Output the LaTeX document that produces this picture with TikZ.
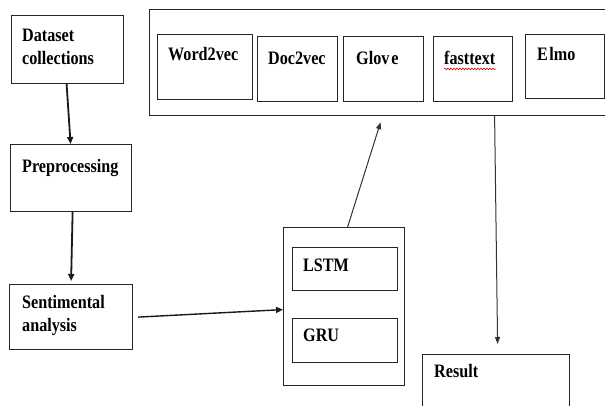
\documentclass[tikz,border=0pt]{standalone}
\usepackage{fontspec}
\newfontfamily\tnr{Liberation Serif}[FakeStretch=0.85, UprightFont={* Bold}]
\usetikzlibrary{arrows.meta,decorations.pathmorphing}
\tikzset{
  box/.style={draw=black!85, line width=1.2pt, rectangle, inner sep=0pt, anchor=north west},
  lbl/.style={font=\tnr\fontsize{19}{23}\selectfont, inner sep=0pt, anchor=west, align=left, text=black},
  thickarr/.style={line width=1.8pt, draw=black!90, -{Triangle[length=7pt,width=6pt]}},
  thinarr/.style={line width=1pt, draw=black!80, -{Triangle[length=7pt,width=5pt]}}
}
\begin{document}
\begin{tikzpicture}[x=1pt,y=-1pt]
\useasboundingbox (0,0) rectangle (605,406);
\clip (0,0) rectangle (605,406);
% left column
\node[box, minimum width=112pt, minimum height=68pt] (data) at (11,15) {};
\node[box, minimum width=121pt, minimum height=67pt] (prep) at (10,144) {};
\node[box, minimum width=123pt, minimum height=65pt] (sent) at (9,284) {};
\node[lbl] (datat) at (22,46.5) {Dataset\\collections};
\node[lbl] (prept) at (22,168) {Preprocessing};
\node[lbl] (sentt) at (22,315) {Sentimental\\analysis};
% embeddings
\node[box, minimum width=471pt, minimum height=106pt] (embed) at (149,9) {};
\node[box, minimum width=95pt, minimum height=65pt] (w2v) at (157,34) {};
\node[box, minimum width=80pt, minimum height=65pt] (d2v) at (257,36) {};
\node[box, minimum width=80pt, minimum height=65pt] (glove) at (343,36) {};
\node[box, minimum width=79pt, minimum height=65pt] (fast) at (433,36) {};
\node[box, minimum width=79pt, minimum height=64pt] (elmo) at (525,34) {};
\node[lbl] (w2vt) at (168,54) {Word2vec};
\node[lbl] (d2vt) at (268,58) {Doc2vec};
\node[lbl] (glovet) at (356,58) {Glov\kern2pt e};
\node[lbl] (fastt) at (444,58) {fasttext};
\node[lbl] (elmot) at (537,54) {E\kern1.5pt lmo};
\draw[red!80!black, line width=0.6pt, decorate, decoration={snake, amplitude=0.8pt, segment length=3pt}]
  ([yshift=-4pt]fastt.south west) -- ([yshift=-4pt]fastt.south east);
% RNN models
\node[box, minimum width=121pt, minimum height=158pt] (rnn) at (283,227) {};
\node[box, minimum width=105pt, minimum height=43pt] (lstm) at (292,247) {};
\node[box, minimum width=105pt, minimum height=44pt] (gru) at (292,318) {};
\node[lbl] (lstmt) at (303,265) {LSTM};
\node[lbl] (grut) at (303,335) {GRU};
% result
\node[box, minimum width=147pt, minimum height=60pt] (result) at (422,354) {};
\node[lbl] (resultt) at (434,371) {Result};
% connectors
\draw[thickarr] ([xshift=-1pt]data.south) -- ([xshift=-0.5pt]prep.north);
\draw[thickarr] ([xshift=1.5pt]prep.south) -- ([yshift=3pt]sent.north);
\draw[thickarr, line width=1.4pt] ([xshift=5pt]sent.east) -- ([yshift=-3pt]rnn.west);
\draw[thinarr] ([xshift=3.5pt]rnn.north) -- ([xshift=-4.5pt,yshift=-6pt]embed.south);
\draw[thinarr] ([xshift=109.5pt]embed.south) -- ([xshift=1.5pt,yshift=10pt]result.north);
\end{tikzpicture}
\end{document}
